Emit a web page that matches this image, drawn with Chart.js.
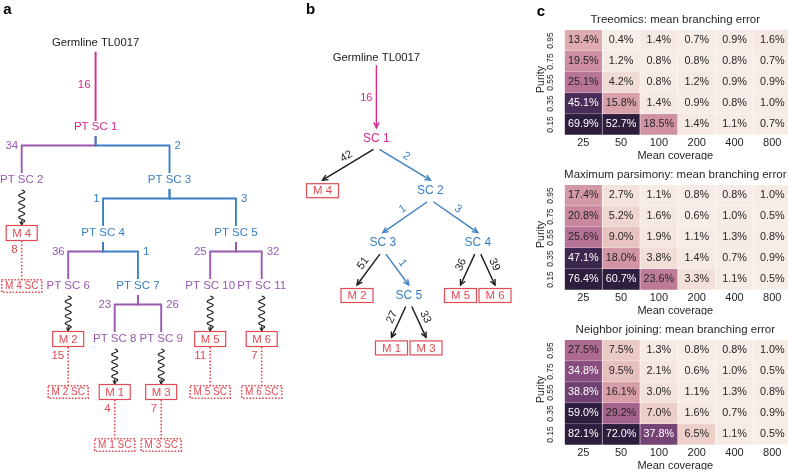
<!DOCTYPE html>
<html>
<head>
<meta charset="utf-8">
<script src="https://cdn.jsdelivr.net/npm/chart.js@4.4.1/dist/chart.umd.min.js"></script>
<style>
  html, body { margin: 0; padding: 0; background: #fff; width: 788px; height: 474px; overflow: hidden; }
  .panel { position: absolute; }
</style>
</head>
<body>
<div class="panel" style="left:0;top:0;width:290px;height:474px"><canvas id="treeA"></canvas></div>
<div class="panel" style="left:290px;top:0;width:240px;height:474px"><canvas id="treeB"></canvas></div>
<div class="panel" style="left:520px;top:0;width:272px;height:160px"><canvas id="heatTreeomics"></canvas></div>
<div class="panel" style="left:520px;top:155px;width:272px;height:160px"><canvas id="heatParsimony"></canvas></div>
<div class="panel" style="left:520px;top:310px;width:272px;height:160px"><canvas id="heatNeighbor"></canvas></div>
<script>
const FONT = '"Liberation Sans", Arial, Helvetica, sans-serif';
const MAGENTA = '#d62a8c', PURPLE = '#9a5aae', BLUE = '#3a80c3', RED = '#e04b53', INK = '#1b1b1b';

// a: subclone tree from the primary tumour samples
const aNames = ['Germline TL0017', 'PT SC 1', 'PT SC 2', 'PT SC 3', 'M 4', 'M 4 SC', 'PT SC 4', 'PT SC 5',
  'PT SC 6', 'PT SC 7', 'PT SC 10', 'PT SC 11', 'M 2', 'M 2 SC', 'PT SC 8', 'PT SC 9',
  'M 5', 'M 5 SC', 'M 6', 'M 6 SC', 'M 1', 'M 1 SC', 'M 3', 'M 3 SC'];
const aParents = [null, 0, 1, 1, 2, 4, 3, 3, 6, 6, 7, 7, 8, 12, 9, 9, 10, 16, 11, 18, 14, 20, 15, 22];
const aCounts = [null, 16, 34, 2, null, 8, 1, 3, 36, 1, 25, 32, null, 15, 23, 26, null, 11, null, 7, null, 4, null, 7];
const aKinds = ['germline', 'founder', 'private', 'shared', 'met', 'metsc', 'shared', 'shared',
  'private', 'shared', 'private', 'private', 'met', 'metsc', 'private', 'private',
  'met', 'metsc', 'met', 'metsc', 'met', 'metsc', 'met', 'metsc'];

// b: tree inferred by Treeomics
const bNames = ['Germline TL0017', 'SC 1', 'M 4', 'SC 2', 'SC 3', 'SC 4', 'M 2', 'SC 5', 'M 5', 'M 6', 'M 1', 'M 3'];
const bParents = [null, 0, 1, 1, 3, 3, 4, 4, 5, 5, 7, 7];
const bCounts = [null, 16, 42, 2, 1, 3, 51, 1, 36, 39, 27, 33];
const bKinds = ['germline', 'founder', 'met', 'shared', 'shared', 'shared', 'met', 'shared', 'met', 'met', 'met', 'met'];

// c: mean branching error (%)
const coverage = ['25', '50', '100', '200', '400', '800'];
const purity = ['0.95', '0.75', '0.55', '0.35', '0.15'];
const treeomicsErr = [
  [13.4, 0.4, 1.4, 0.7, 0.9, 1.6],
  [19.5, 1.2, 0.8, 0.8, 0.8, 0.7],
  [25.1, 4.2, 0.8, 1.2, 0.9, 0.9],
  [45.1, 15.8, 1.4, 0.9, 0.8, 1.0],
  [69.9, 52.7, 18.5, 1.4, 1.1, 0.7]];
const parsimonyErr = [
  [17.4, 2.7, 1.1, 0.8, 0.8, 1.0],
  [20.8, 5.2, 1.6, 0.6, 1.0, 0.5],
  [25.6, 9.0, 1.9, 1.1, 1.3, 0.8],
  [47.1, 18.0, 3.8, 1.4, 0.7, 0.9],
  [76.4, 60.7, 23.6, 3.3, 1.1, 0.5]];
const neighborErr = [
  [27.5, 7.5, 1.3, 0.8, 0.8, 1.0],
  [34.8, 9.5, 2.1, 0.6, 1.0, 0.5],
  [38.8, 16.1, 3.0, 1.1, 1.3, 0.8],
  [59.0, 29.2, 7.0, 1.6, 0.7, 0.9],
  [82.1, 72.0, 37.8, 6.5, 1.1, 0.5]];

const nodeColor = { germline: INK, founder: MAGENTA, shared: BLUE, private: PURPLE, met: RED, metsc: RED };

function arrowHead(ctx, x0, y0, x1, y1, len, color) {
  const a = Math.atan2(y1 - y0, x1 - x0);
  ctx.beginPath();
  ctx.moveTo(x1 - len * Math.cos(a - 0.45), y1 - len * Math.sin(a - 0.45));
  ctx.lineTo(x1, y1);
  ctx.lineTo(x1 - len * Math.cos(a + 0.45), y1 - len * Math.sin(a + 0.45));
  ctx.strokeStyle = color;
  ctx.stroke();
}

function makeTree(canvasId, names, parents, counts, kinds, look) {
  const kids = names.map(() => []);
  parents.forEach((p, i) => { if (p !== null) kids[p].push(i); });
  const depth = [];
  parents.forEach((p, i) => { depth[i] = p === null ? 0 : depth[p] + 1; });
  const root = parents.indexOf(null);

  // leaves left to right, each column as wide as its longest label
  const leaves = [];
  (function walk(i) { if (!kids[i].length) leaves.push(i); kids[i].forEach(walk); })(root);
  const colChars = leaves.map(leaf => {
    let w = 0;
    for (let i = leaf; parents[i] !== null && kids[i].length <= 1; i = parents[i]) w = Math.max(w, names[i].length);
    return w;
  });
  const x = [];
  let pos = 0;
  leaves.forEach((leaf, k) => {
    if (k) pos += (colChars[k - 1] + colChars[k]) / 2 + look.leafGap;
    x[leaf] = pos;
  });
  (function place(i) {
    kids[i].forEach(place);
    if (kids[i].length) x[i] = (x[kids[i][0]] + x[kids[i][kids[i].length - 1]]) / 2;
  })(root);
  const y = depth.map(d => (d === 0 ? 1 - look.rootGap : d));

  const dy = px => px / look.rowPx, dx = px => px / look.charPx;
  const edges = [];
  names.forEach((_, i) => {
    const p = parents[i];
    if (p === null) return;
    const side = kids[p].length > 1 ? (kids[p].indexOf(i) === 0 ? -1 : 1) : 0;
    const e = { i, p, side, count: counts[i] };
    if (kinds[i] === 'met' && look.style === 'elbow') e.type = 'wavy';
    else if (kinds[i] === 'metsc') e.type = 'dotted';
    else if (depth[p] === 0) e.type = 'trunk';
    else e.type = look.style;
    e.color = e.type === 'dotted' ? RED : look.edgeColor(kinds[i]);
    if (e.type === 'trunk') e.pts = [{ x: x[p], y: y[p] + dy(look.trunkStart) }, { x: x[i], y: y[i] - dy(look.trunkEnd) }];
    else if (e.type === 'elbow') {
      const bar = y[p] + look.barFrac;
      e.pts = [{ x: x[p], y: y[p] + dy(9) }, { x: x[p], y: bar }, { x: x[i], y: bar }, { x: x[i], y: y[i] - dy(7) }];
    } else if (e.type === 'dotted') e.pts = [{ x: x[i], y: y[p] + dy(8) }, { x: x[i], y: y[i] - dy(6) }];
    else if (e.type === 'diag') e.pts = [{ x: x[p] + dx(side * 3), y: y[p] + dy(11) }, { x: x[i], y: y[i] - dy(10.5) }];
    edges.push(e);
  });

  const datasets = edges.filter(e => e.pts).reverse().map(e => ({
    data: e.pts, showLine: true, borderColor: e.color, borderWidth: e.type === 'dotted' ? 1.6 : look.lineWidth,
    borderDash: e.type === 'dotted' ? [1.6, 1.8] : [], pointRadius: 0, pointHoverRadius: 0, tension: 0
  }));
  datasets.push({ data: names.map((_, i) => ({ x: x[i], y: y[i] })), pointRadius: 0, pointHoverRadius: 0 });

  const decor = {
    id: 'treeDecor',
    afterDatasetsDraw(chart) {
      const ctx = chart.ctx, xs = chart.scales.x, ys = chart.scales.y;
      const X = i => xs.getPixelForValue(x[i]), Y = i => ys.getPixelForValue(y[i]);
      ctx.save();
      ctx.lineWidth = 1.1;
      edges.forEach(e => {
        if (e.type === 'wavy') {
          const cx = X(e.i), y0 = Y(e.p) + 10, y1 = Y(e.i) - 11;
          ctx.beginPath();
          for (let yy = y0; yy <= y1; yy += 0.5) {
            const xx = cx + 3 * Math.sin((yy - y0) / 7.3 * 2 * Math.PI);
            if (yy === y0) ctx.moveTo(xx, yy); else ctx.lineTo(xx, yy);
          }
          ctx.strokeStyle = INK;
          ctx.stroke();
          ctx.beginPath(); ctx.moveTo(cx, y1 - 2); ctx.lineTo(cx, y1 + 3); ctx.stroke();
          arrowHead(ctx, cx, y1 - 2, cx, y1 + 3, 4, INK);
        } else if (look.arrows && e.pts) {
          const a = e.pts[e.pts.length - 2], b = e.pts[e.pts.length - 1];
          ctx.lineWidth = look.lineWidth;
          arrowHead(ctx, xs.getPixelForValue(a.x), ys.getPixelForValue(a.y), xs.getPixelForValue(b.x), ys.getPixelForValue(b.y), 6, e.color);
        }
      });
      // nodes
      ctx.textBaseline = 'middle';
      ctx.textAlign = 'center';
      names.forEach((name, i) => {
        const px = X(i), py = Y(i), kind = kinds[i];
        if (kind === 'met' || kind === 'metsc') {
          const w = kind === 'met' ? look.boxW : 40, h = kind === 'met' ? look.boxH : 12.5;
          ctx.fillStyle = '#fff';
          ctx.fillRect(px - w / 2, py - h / 2, w, h);
          ctx.strokeStyle = RED;
          ctx.lineWidth = kind === 'met' ? 1.2 : 1.6;
          ctx.setLineDash(kind === 'met' ? [] : [1.6, 1.6]);
          ctx.strokeRect(px - w / 2, py - h / 2, w, h);
          ctx.setLineDash([]);
          ctx.fillStyle = RED;
          ctx.font = (kind === 'met' ? '11.4px ' : '10px ') + FONT;
          ctx.fillText(name, px, py + 0.5);
        } else {
          ctx.fillStyle = nodeColor[kind];
          ctx.font = (kind === 'germline' ? '11.3px ' : look.nodeFont) + FONT;
          ctx.fillText(name, px, py);
        }
      });
      // mutation counts on the edges
      ctx.font = look.countFont + FONT;
      edges.forEach(e => {
        if (e.count === null) return;
        const cx = X(e.i), cy = Y(e.i), ppx = X(e.p), ppy = Y(e.p);
        ctx.fillStyle = e.color;
        if (e.type === 'trunk') {
          ctx.textAlign = 'right';
          ctx.fillText(e.count, cx - look.trunkLabelGap, (cy + ppy) / 2);
        } else if (e.type === 'elbow') {
          const by = ys.getPixelForValue(y[e.p] + look.barFrac);
          ctx.textAlign = e.side < 0 ? 'right' : 'left';
          ctx.fillText(e.count, cx + (e.side < 0 ? -3.5 : 5), by);
        } else if (e.type === 'dotted') {
          ctx.textAlign = 'right';
          ctx.fillText(e.count, cx - 4, ppy + 17);
        } else if (e.type === 'diag') {
          const a = e.pts[0], b = e.pts[1];
          const x0 = xs.getPixelForValue(a.x), y0 = ys.getPixelForValue(a.y);
          const x1 = xs.getPixelForValue(b.x), y1 = ys.getPixelForValue(b.y);
          const len = Math.hypot(x1 - x0, y1 - y0), ux = (x1 - x0) / len, uy = (y1 - y0) / len;
          const nx = e.side < 0 ? -uy : uy, ny = e.side < 0 ? ux : -ux;
          let ang = Math.atan2(uy, ux);
          if (ang > Math.PI / 2) ang -= Math.PI;
          if (ang < -Math.PI / 2) ang += Math.PI;
          ctx.save();
          ctx.translate(x0 + 0.45 * (x1 - x0) + 8 * nx, y0 + 0.45 * (y1 - y0) + 8 * ny);
          ctx.rotate(ang);
          ctx.textAlign = 'center';
          ctx.fillText(e.count, 0, 0);
          ctx.restore();
        }
      });
      ctx.fillStyle = '#000';
      ctx.font = 'bold 15px ' + FONT;
      ctx.textAlign = 'center';
      ctx.fillText(look.letter, look.letterX, look.letterY);
      ctx.restore();
    }
  };

  const xmin = -look.x0 / look.charPx, ymin = 1 - look.firstRowY / look.rowPx;
  return new Chart(document.getElementById(canvasId), {
    type: 'scatter',
    data: { datasets },
    options: {
      responsive: true, maintainAspectRatio: false, animation: false, events: [],
      plugins: { legend: { display: false }, tooltip: { enabled: false } },
      scales: {
        x: { type: 'linear', display: false, min: xmin, max: xmin + look.width / look.charPx },
        y: { type: 'linear', display: false, reverse: true, min: ymin, max: ymin + look.height / look.rowPx }
      }
    },
    plugins: [decor]
  });
}

makeTree('treeA', aNames, aParents, aCounts, aKinds, {
  style: 'elbow', arrows: false, leafGap: 2.3, rootGap: 1.59, charPx: 5, rowPx: 53, firstRowY: 127,
  x0: 21.7, width: 290, height: 474, barFrac: 0.35, trunkStart: 9, trunkEnd: 6, trunkLabelGap: 5,
  lineWidth: 1.9, boxW: 31, boxH: 15, nodeFont: '11.5px ', countFont: '11.5px ',
  edgeColor: k => nodeColor[k], letter: 'a', letterX: 7.5, letterY: 10
});

makeTree('treeB', bNames, bParents, bCounts, bKinds, {
  style: 'diag', arrows: true, leafGap: 3.9, rootGap: 1.53, charPx: 5, rowPx: 52.4, firstRowY: 138.3,
  x0: 32.5, width: 240, height: 474, trunkStart: 7, trunkEnd: 10.5, trunkLabelGap: 4,
  lineWidth: 1.4, boxW: 32, boxH: 14, nodeFont: '12px ', countFont: '11px ',
  edgeColor: k => (k === 'founder' ? MAGENTA : k === 'shared' ? BLUE : INK), letter: 'b', letterX: 20.5, letterY: 10
});

// seaborn-like cubehelix (light .95 -> dark .15)
const VMAX = 50;
function cubehelix(v) {
  const phi = 2 * Math.PI * 0.4 * v, a = 0.8 * v * (1 - v) / 2, c = Math.cos(phi), s = Math.sin(phi);
  const rgb = [v + a * (-0.14861 * c + 1.78277 * s), v + a * (-0.29227 * c - 0.90649 * s), v + a * (1.97294 * c)];
  return 'rgb(' + rgb.map(t => Math.round(255 * Math.min(1, Math.max(0, t)))).join(',') + ')';
}
const cellColor = v => cubehelix(0.95 - 0.8 * Math.min(v / VMAX, 1));

function makeHeat(canvasId, title, rows, letter) {
  const datasets = purity.map((p, r) => ({
    label: p,
    data: coverage.map(() => 1),
    errors: rows[r],
    backgroundColor: rows[r].map(cellColor),
    borderColor: 'rgba(255,255,255,0.5)', borderWidth: 0.6,
    barPercentage: 1, categoryPercentage: 1
  }));
  const decor = {
    id: 'heatDecor',
    afterDatasetsDraw(chart) {
      const ctx = chart.ctx, ca = chart.chartArea, xs = chart.scales.x, ys = chart.scales.y;
      ctx.save();
      ctx.textAlign = 'center';
      ctx.textBaseline = 'middle';
      ctx.font = '10.8px ' + FONT;
      chart.data.datasets.forEach((ds, r) => {
        chart.getDatasetMeta(r).data.forEach((bar, j) => {
          const v = ds.errors[j];
          ctx.fillStyle = v > 30 ? '#fff' : '#262626';
          ctx.fillText(v.toFixed(1) + '%', bar.x, (bar.y + bar.base) / 2);
        });
      });
      const mid = (ca.left + ca.right) / 2 - 2.5;
      ctx.fillStyle = '#262626';
      ctx.font = '11.5px ' + FONT;
      ctx.fillText(title, mid, ca.top - 10);
      ctx.font = '11px ' + FONT;
      coverage.forEach((c, j) => ctx.fillText(c, xs.getPixelForValue(j), ca.bottom + 8.3));
      ctx.fillText('Mean coverage', mid, ca.bottom + 20.5);
      purity.forEach((p, r) => {
        ctx.save();
        ctx.translate(30.5, ys.getPixelForValue(r + 0.5));
        ctx.rotate(-Math.PI / 2);
        ctx.font = '8.5px ' + FONT;
        ctx.fillText(p, 0, 0);
        ctx.restore();
      });
      ctx.save();
      ctx.translate(21, (ca.top + ca.bottom) / 2 - 3);
      ctx.rotate(-Math.PI / 2);
      ctx.font = '10.5px ' + FONT;
      ctx.fillText('Purity', 0, 0);
      ctx.restore();
      if (letter) {
        ctx.fillStyle = '#000';
        ctx.font = 'bold 15px ' + FONT;
        ctx.fillText(letter, 21, 11.5);
      }
      ctx.restore();
    }
  };
  return new Chart(document.getElementById(canvasId), {
    type: 'bar',
    data: { labels: coverage, datasets },
    options: {
      responsive: true, maintainAspectRatio: false, animation: false, events: [],
      layout: { padding: { left: 44.4, right: 0.8, top: 30, bottom: 25 } },
      plugins: { legend: { display: false }, tooltip: { enabled: false } },
      scales: {
        x: { stacked: true, display: false },
        y: { stacked: true, display: false, reverse: true, min: 0, max: purity.length }
      }
    },
    plugins: [decor]
  });
}

makeHeat('heatTreeomics', 'Treeomics: mean branching error', treeomicsErr, 'c');
makeHeat('heatParsimony', 'Maximum parsimony: mean branching error', parsimonyErr, null);
makeHeat('heatNeighbor', 'Neighbor joining: mean branching error', neighborErr, null);
</script>
</body>
</html>
